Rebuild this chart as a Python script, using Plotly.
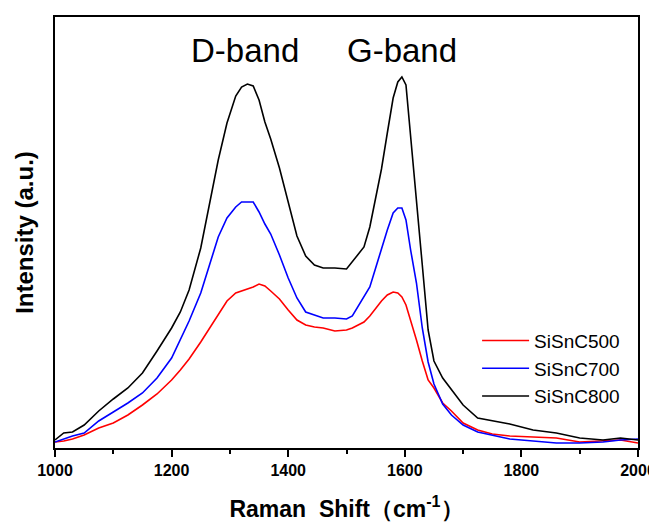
import plotly.graph_objects as go

wavenumber = [1000, 1015, 1030, 1050, 1075, 1100, 1125, 1150, 1175, 1200,
              1215, 1230, 1250, 1265, 1280, 1295, 1310, 1320, 1330, 1340,
              1350, 1360, 1370, 1385, 1400, 1415, 1430, 1445, 1460, 1480,
              1500, 1510, 1520, 1530, 1540, 1550, 1560, 1570, 1580, 1588,
              1595, 1602, 1610, 1620, 1630, 1640, 1650, 1665, 1680, 1700,
              1725, 1750, 1780, 1820, 1860, 1900, 1940, 1970, 2000]

sisnc800 = [8, 15, 16, 23, 37, 49, 60, 75, 97, 120,
            136, 158, 200, 245, 288, 325, 352, 361, 364, 362,
            348, 326, 309, 280, 246, 212, 192, 183, 180, 180,
            179, 186, 194, 201, 221, 249, 279, 315, 350, 366,
            371, 363, 312, 255, 183, 118, 87, 70, 58, 43,
            30, 27, 24, 18, 15, 10, 8, 10, 8]

sisnc700 = [6, 9, 12, 15, 27, 36, 45, 55, 70, 90,
            108, 127, 155, 183, 211, 230, 241, 246, 246, 246,
            236, 224, 214, 193, 170, 150, 136, 133, 130, 130,
            129, 132, 142, 151, 161, 180, 200, 218, 235, 240,
            240, 228, 198, 165, 120, 86, 64, 44, 33, 23,
            16, 13, 9, 7, 5, 5, 6, 8, 9]

sisnc500 = [6, 7, 9, 13, 20, 25, 33, 43, 54, 68,
            78, 89, 106, 120, 134, 147, 155, 157, 159, 161,
            164, 162, 157, 149, 138, 128, 123, 121, 120, 117,
            118, 120, 123, 126, 132, 140, 147, 153, 156, 155,
            151, 143, 128, 108, 87, 68, 60, 45, 37, 25,
            18, 14, 12, 11, 10, 6, 7, 8, 5]

series_names = ["SiSnC500", "SiSnC700", "SiSnC800"]
series_values = [sisnc500, sisnc700, sisnc800]
series_colors = ["#ff0000", "#0000ff", "#000000"]

band_labels = ["D-band", "G-band"]
band_positions = [1326, 1595]
band_label_height = 398

FONT = "Liberation Sans, Arial, sans-serif"

fig = go.Figure()
for name, vals, col in zip(series_names, series_values, series_colors):
    fig.add_trace(go.Scatter(x=wavenumber, y=vals, mode="lines", name=name,
                             line=dict(color=col, width=1.6)))

for lab, pos in zip(band_labels, band_positions):
    fig.add_annotation(x=pos, y=band_label_height, text=lab, showarrow=False,
                       font=dict(family=FONT, size=33, color="black"))

# the page body adds an 8px offset, so margins are compensated
fig.update_layout(
    width=657, height=523,
    margin=dict(l=47, r=27, t=9, b=83),
    plot_bgcolor="white", paper_bgcolor="white",
    font=dict(family=FONT, color="black"),
    showlegend=True,
    legend=dict(x=0.724, y=0.293, xanchor="left", yanchor="top",
                font=dict(size=19, family=FONT),
                itemwidth=47,
                bgcolor="rgba(0,0,0,0)", tracegroupgap=0),
    xaxis=dict(range=[1000, 2000], dtick=200, tick0=1000, automargin=False,
               showline=True, linecolor="black", linewidth=1.5, mirror=True,
               ticks="outside", ticklen=7, tickwidth=1.5, tickcolor="black",
               minor=dict(dtick=100, ticks="outside", ticklen=4, tickwidth=1.5, tickcolor="black"),
               showgrid=False, zeroline=False,
               tickfont=dict(size=16, family=FONT, weight="bold"),
               title=dict(text="Raman  Shift（cm<sup>-1</sup>）", standoff=23,
                          font=dict(size=23, family=FONT, weight="bold"))),
    yaxis=dict(range=[0, 431], automargin=False,
               showline=True, linecolor="black", linewidth=1.5, mirror=True,
               showticklabels=False, ticks="", showgrid=False, zeroline=False,
               title=dict(text="Intensity (a.u.)", standoff=13,
                          font=dict(size=24, family=FONT, weight="bold"))),
)

fig.write_html("out.html")
